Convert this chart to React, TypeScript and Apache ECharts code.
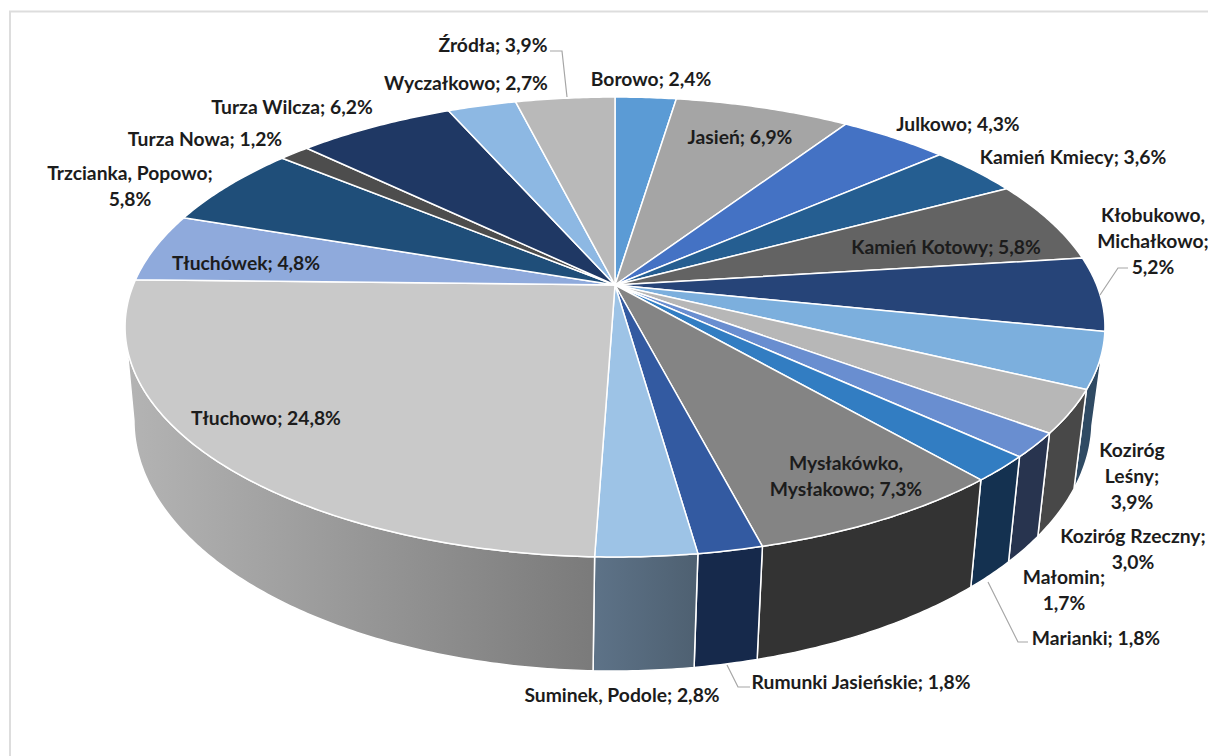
import React, { useEffect, useRef } from "react";
import * as echarts from "echarts";

const names = ["Borowo","Jasień","Julkowo","Kamień Kmiecy","Kamień Kotowy","Kłobukowo, Michałkowo","Koziróg Leśny","Koziróg Rzeczny","Małomin","Marianki","Mysłakówko, Mysłakowo","Rumunki Jasieńskie","Suminek, Podole","Tłuchowo","Tłuchówek","Trzcianka, Popowo","Turza Nowa","Turza Wilcza","Wyczałkowo","Źródła"];
const values = [2.4,6.9,4.3,3.6,5.8,5.2,3.9,3.0,1.7,1.8,7.3,1.8,2.8,24.8,4.8,5.8,1.2,6.2,2.7,3.9];
const labelTexts = ["Borowo; 2,4%","Jasień; 6,9%","Julkowo; 4,3%","Kamień Kmiecy; 3,6%","Kamień Kotowy; 5,8%","Kłobukowo,\nMichałkowo;\n5,2%","Koziróg\nLeśny;\n3,9%","Koziróg Rzeczny;\n3,0%","Małomin;\n1,7%","Marianki; 1,8%","Mysłakówko,\nMysłakowo; 7,3%","Rumunki Jasieńskie; 1,8%","Suminek, Podole; 2,8%","Tłuchowo; 24,8%","Tłuchówek; 4,8%","Trzcianka, Popowo;\n5,8%","Turza Nowa; 1,2%","Turza Wilcza; 6,2%","Wyczałkowo; 2,7%","Źródła; 3,9%"];
const topColors = ["#5B9BD5","#A5A5A5","#4472C4","#255E91","#636363","#264478","#7CAFDD","#B7B7B7","#698ED0","#327DC2","#848484","#335AA1","#9DC3E6","#C9C9C9","#8FAADC","#1F4E79","#4D4D4D","#1F3864","#8DB8E3","#B9B9B9"];
const wallColors = ["#2E4E6B","#535353","#223962","#132F49","#323232","#13223C","#2F4A63","#484848","#28344F","#143150","#333333","#16294B","#57697D","#949494","#485670","#0F273D","#262626","#101C32","#47647F","#5D5D5D"];
const labelCenters: [number, number][] = [[651,78],[740,136],[958,123],[1073,156],[946,246],[1153,240],[1132,475],[1133,548],[1064,589],[1096,637],[846,475],[861,681],[622,694],[266,417],[246,262],[130,185],[205,138],[292,106],[466,82],[493,44]];
const leaderLines: [number, number][][] = [
  [[550,51],[562,51],[567,97]],
  [[1128,268],[1118,268],[1100,295]],
  [[1028,642],[1018,642],[988,582]],
  [[750,687],[738,687],[727,665]],
];

// Projection of the pie's circular top and bottom rims (perspective view).
const APEX_X = 615, APEX_Y = 285, PERSP = 0.1826;
const TOP_RX = 481.7, TOP_RY = 222.3;
const BOT_X = 613, BOT_RX = 471, BOT_RY = 242, BOT_Y = 375;
// Angles at which the wall meets the pie's silhouette.
const WALL_FROM = Math.acos(-PERSP), WALL_TO = Math.PI * 2 - WALL_FROM;

const total = values.reduce((a, b) => a + b, 0);
const startAngle = (i: number) => (values.slice(0, i).reduce((a, b) => a + b, 0) / total) * Math.PI * 2;
const unit = (t: number) => {
  const w = 1 + PERSP * Math.cos(t);
  return [Math.sin(t) / w, -Math.cos(t) / w];
};
const topPt = (t: number) => {
  const [x, y] = unit(t);
  return [APEX_X + TOP_RX * x, APEX_Y + TOP_RY * y];
};
const botPt = (t: number) => {
  const [x, y] = unit(t);
  return [BOT_X + BOT_RX * x, BOT_Y + BOT_RY * y];
};
const arcBetween = (a: number, b: number, f: (t: number) => number[]) => {
  const n = Math.max(2, Math.ceil((b - a) / 0.01));
  const pts: number[][] = [];
  for (let k = 0; k <= n; k++) pts.push(f(a + ((b - a) * k) / n));
  return pts;
};
const seriesData = names.map((name, i) => ({ name, value: values[i] }));

const wallFill = (i: number): any => {
  if (names[i] === "Tłuchowo")
    return new echarts.graphic.LinearGradient(125, 0, 597, 0, [{ offset: 0, color: "#B4B4B4" }, { offset: 1, color: "#7A7A7A" }], true);
  if (names[i] === "Suminek, Podole")
    return new echarts.graphic.LinearGradient(597, 0, 698, 0, [{ offset: 0, color: "#5D7287" }, { offset: 1, color: "#4E6071" }], true);
  return wallColors[i];
};

export default function App() {
  const ref = useRef<HTMLDivElement>(null);
  useEffect(() => {
    const chart = echarts.init(ref.current!, undefined, { renderer: "svg" });
    chart.setOption({
      animation: false,
      backgroundColor: "#ffffff",
      graphic: [
        { type: "rect", z: 0, silent: true, shape: { x: 10, y: 11.5, width: 1400, height: 1000 }, style: { fill: "none", stroke: "#DDDDDD", lineWidth: 2 } },
        ...leaderLines.map((pts) => ({ type: "polyline", z: 20, silent: true, shape: { points: pts }, style: { fill: "none", stroke: "#A6A6A6", lineWidth: 1.2 } })),
      ],
      series: [
        {
          type: "custom", name: "walls", coordinateSystem: "none", silent: true, z: 2, data: seriesData,
          renderItem: (p: any) => {
            const i = p.dataIndex;
            const a = Math.max(startAngle(i), WALL_FROM), b = Math.min(startAngle(i + 1), WALL_TO);
            if (a >= b) return null;
            const top = arcBetween(a, b, topPt), bot = arcBetween(a, b, botPt).reverse();
            return { type: "polygon", shape: { points: [...top, ...bot] }, style: { fill: wallFill(i), stroke: "#ffffff", lineWidth: 1.5 } };
          },
        },
        {
          type: "custom", name: "tops", coordinateSystem: "none", silent: true, z: 3, data: seriesData,
          renderItem: (p: any) => {
            const i = p.dataIndex;
            return { type: "polygon", shape: { points: [[APEX_X, APEX_Y], ...arcBetween(startAngle(i), startAngle(i + 1), topPt)] }, style: { fill: topColors[i], stroke: "#ffffff", lineWidth: 1.5, lineJoin: "round" } };
          },
        },
        {
          type: "custom", name: "labels", coordinateSystem: "none", silent: true, z: 30, data: seriesData,
          renderItem: (p: any) => {
            const i = p.dataIndex;
            return {
              type: "text",
              style: {
                text: labelTexts[i], x: labelCenters[i][0], y: labelCenters[i][1],
                align: "center", verticalAlign: "middle",
                fontFamily: "Lato", fontSize: 19.3, fontWeight: 700, lineHeight: 26, fill: "#1C1C1C",
              },
            };
          },
        },
      ],
    });
    return () => chart.dispose();
  }, []);
  return <div ref={ref} style={{ position: "absolute", left: 0, top: 0, width: 1208, height: 756 }} />;
}
